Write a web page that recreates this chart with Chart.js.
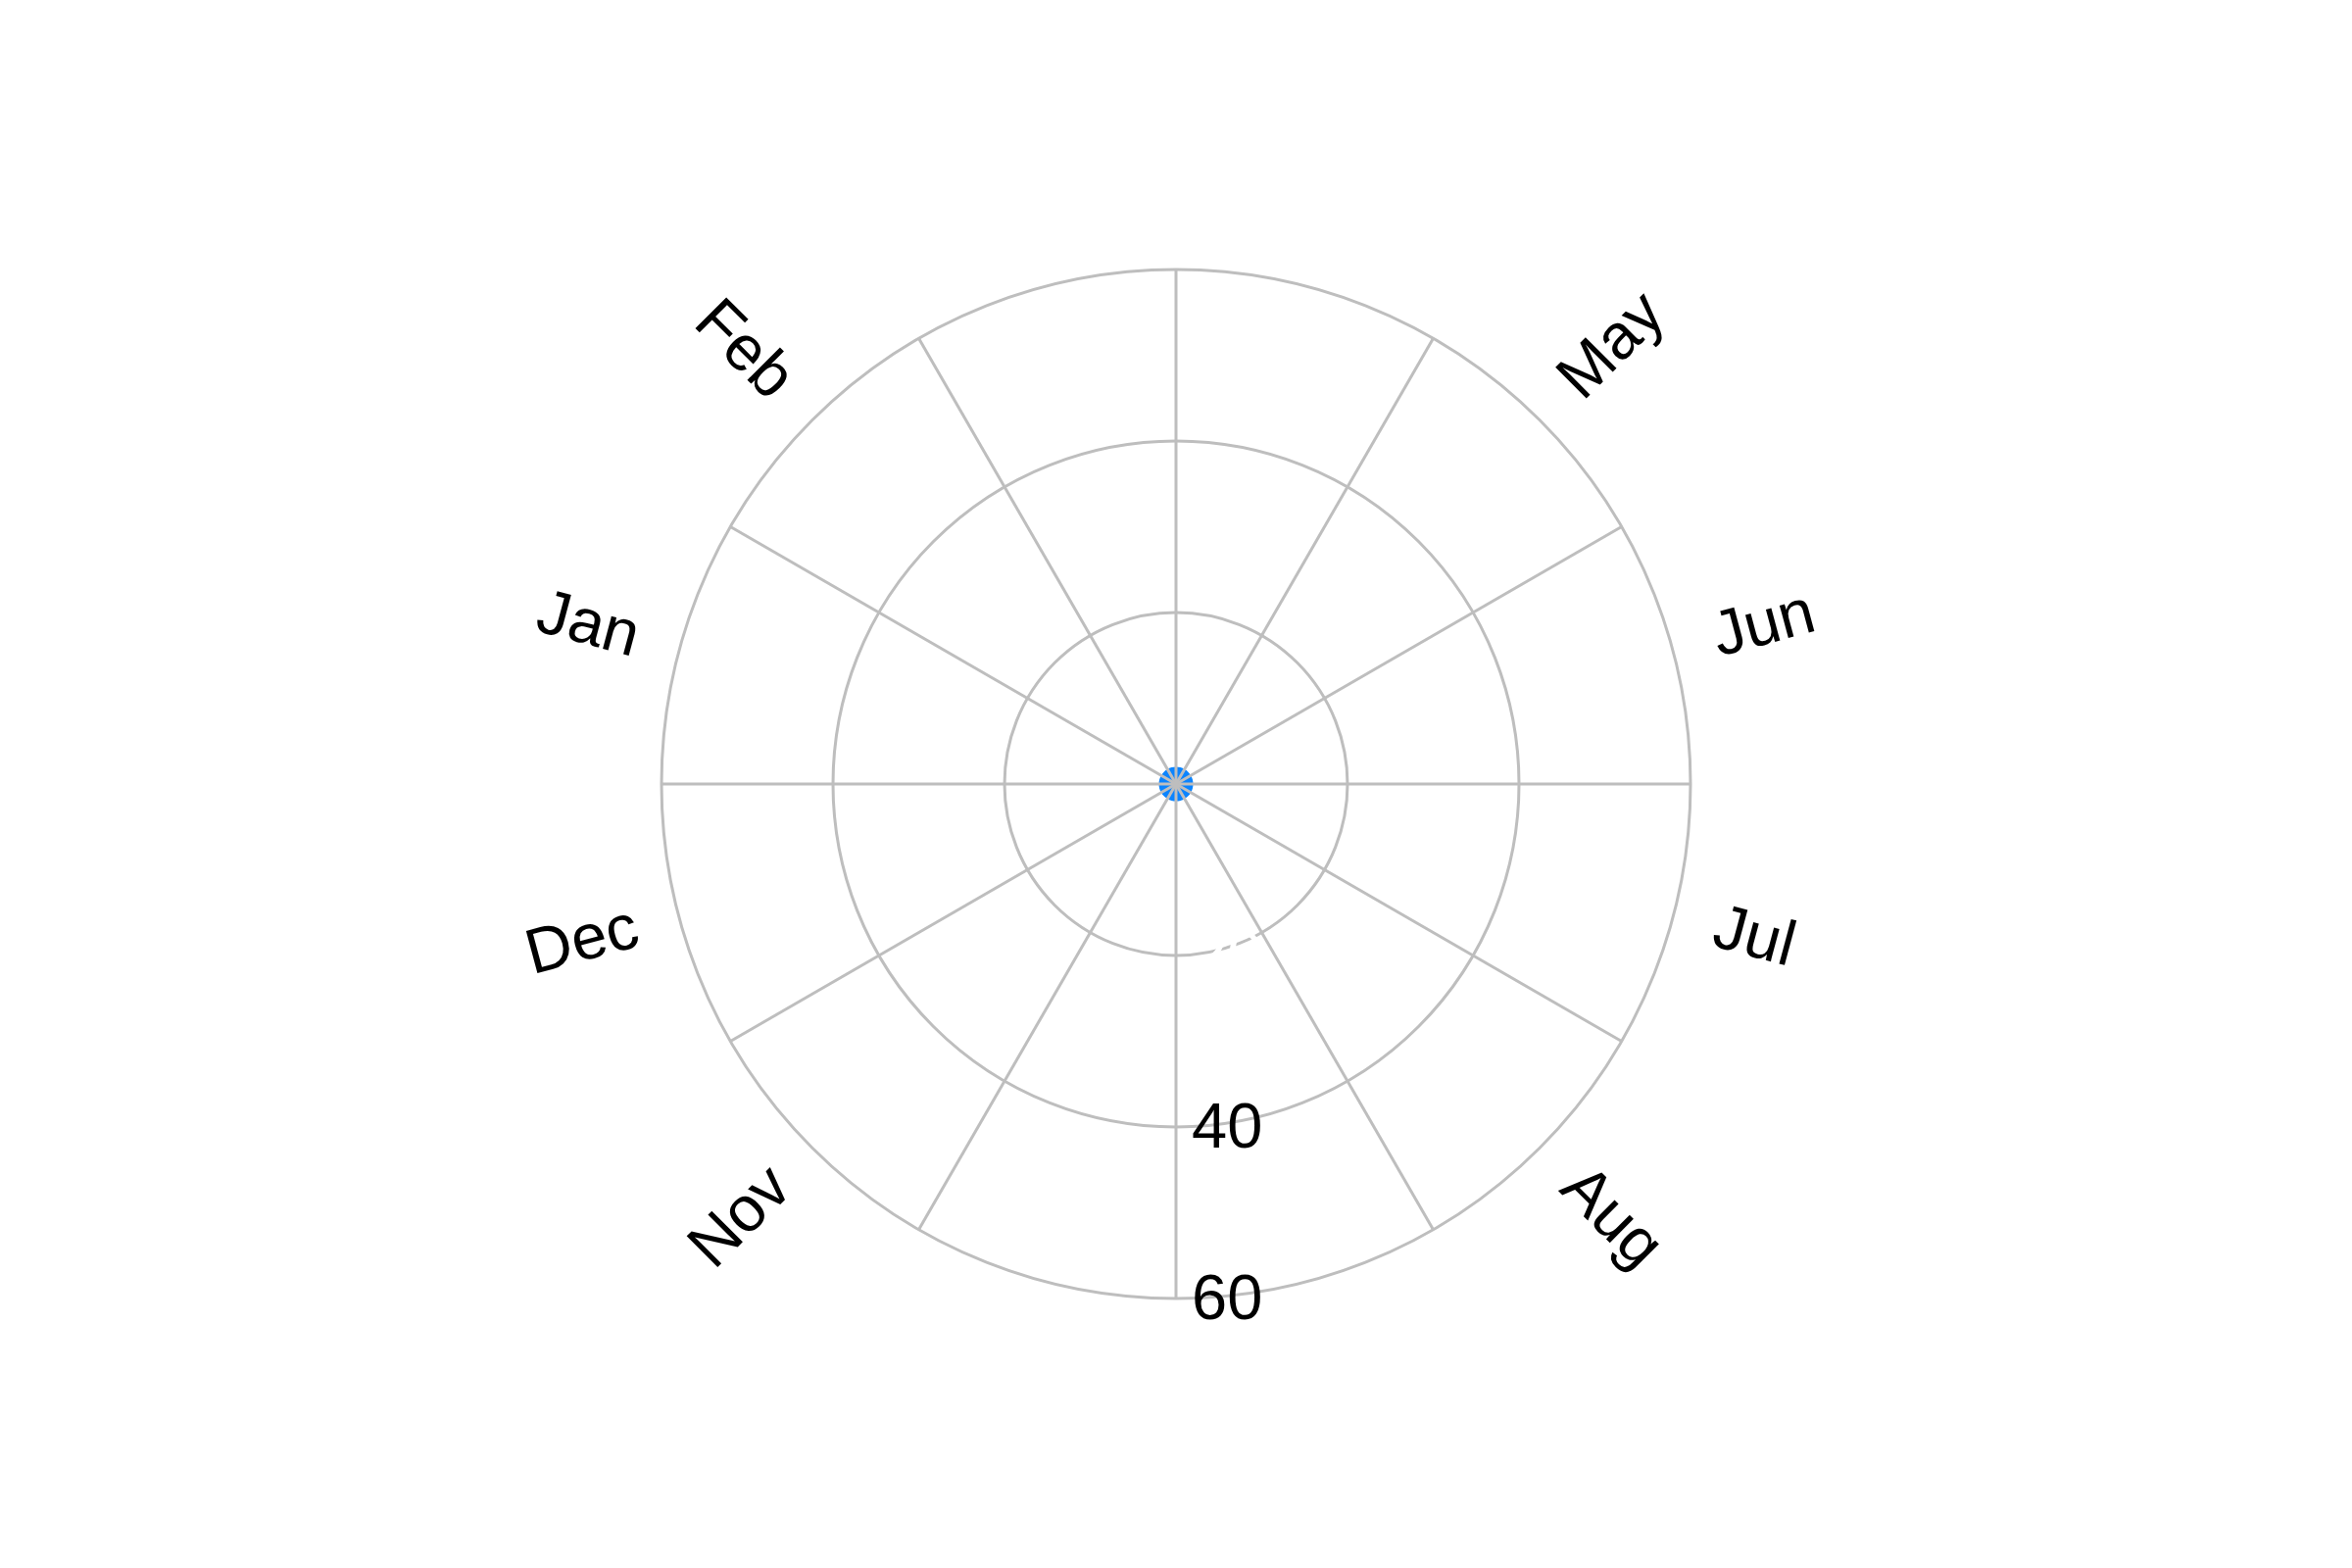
<!DOCTYPE html>
<html>
<head>
<meta charset="utf-8">
<title>Polar chart</title>
<script src="https://cdn.jsdelivr.net/npm/chart.js@4.4.1/dist/chart.umd.min.js"></script>
<style>
  html, body { margin: 0; padding: 0; background: #fff; }
  #wrap { width: 2400px; height: 1600px; position: relative; }
</style>
</head>
<body>
<div id="wrap"><canvas id="polar-chart"></canvas></div>
<script>
// categories (clockwise, starting on the left)
const months = ['Jan', 'Feb', 'Mar', 'Apr', 'May', 'Jun', 'Jul', 'Aug', 'Sep', 'Oct', 'Nov', 'Dec'];
// months whose label is printed round the rim
const shownMonths = ['Jan', 'Feb', 'May', 'Jun', 'Jul', 'Aug', 'Nov', 'Dec'];
// bar values, all tiny next to the axis range
const values = [2, 2, 2, 2, 2, 2, 2, 2, 2, 2, 2, 2];
// radial ticks
const radialTicks = [20, 40, 60];
const radialMax = 60;

const labelFont = '65px "Liberation Sans", Arial, Helvetica, sans-serif';

// draws the radial tick values down the bottom spoke and the rotated month labels
const polarText = {
    id: 'polarText',
    afterDraw(chart) {
        const r = chart.scales.r;
        const ctx = chart.ctx;
        ctx.save();
        ctx.font = labelFont;
        ctx.textBaseline = 'middle';

        radialTicks.forEach(v => {
            const d = r.getDistanceFromCenterForValue(v);
            ctx.fillStyle = v === 20 ? '#ffffff' : '#000000';
            ctx.textAlign = 'left';
            ctx.fillText(String(v), r.xCenter + 16, r.yCenter + d + 3);
        });

        const step = (2 * Math.PI) / months.length;
        ctx.fillStyle = '#000000';
        months.forEach((m, i) => {
            if (!shownMonths.includes(m)) return;
            const a = r.getIndexAngle(i) - Math.PI / 2 + step / 2;
            const d = r.drawingArea + 44;
            const x = r.xCenter + Math.cos(a) * d;
            const y = r.yCenter + Math.sin(a) * d;
            const left = Math.cos(a) < 0;
            ctx.save();
            ctx.translate(x, y);
            ctx.rotate(left ? a + Math.PI : a);
            ctx.textAlign = left ? 'right' : 'left';
            ctx.fillText(m, 0, 0);
            ctx.restore();
        });
        ctx.restore();
    }
};

const ctx = document.getElementById('polar-chart').getContext('2d');
new Chart(ctx, {
    type: 'polarArea',
    data: {
        labels: months,
        datasets: [{
            data: values,
            backgroundColor: '#0b84fe',
            borderWidth: 0
        }]
    },
    options: {
        responsive: true,
        maintainAspectRatio: false,
        animation: false,
        layout: { padding: { top: 275, bottom: 275 } },
        plugins: {
            legend: { display: false },
            tooltip: { enabled: false }
        },
        scales: {
            r: {
                startAngle: 270,
                min: 0,
                max: radialMax,
                ticks: { display: false, stepSize: 20 },
                grid: { circular: true, color: '#bebebe', lineWidth: 3, z: 1 },
                angleLines: { display: true, color: '#bebebe', lineWidth: 3 },
                pointLabels: { display: false }
            }
        }
    },
    plugins: [polarText]
});
</script>
</body>
</html>
